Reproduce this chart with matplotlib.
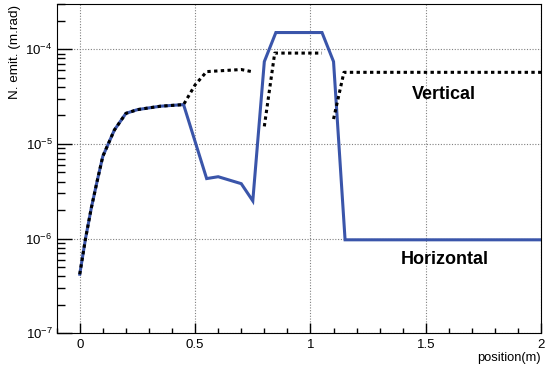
import numpy as np
import matplotlib
matplotlib.use("Agg")
import matplotlib.pyplot as plt
from matplotlib.ticker import MultipleLocator, LogLocator, NullFormatter

plt.rcParams['font.family'] = ['Liberation Sans', 'DejaVu Sans']
plt.rcParams['mathtext.fontset'] = 'custom'
plt.rcParams['mathtext.rm'] = 'Liberation Sans'

# Horizontal emittance (solid blue)
pos_h = [0, 0.025, 0.05, 0.075, 0.1, 0.15, 0.2, 0.25, 0.3, 0.35, 0.4, 0.45,
         0.55, 0.6, 0.7, 0.75, 0.8, 0.85, 1.05, 1.1, 1.15, 2.0]
emit_h = [4.2e-7, 1.0e-6, 2.1e-6, 4.0e-6, 7.4e-6, 1.4e-5, 2.1e-5, 2.3e-5, 2.4e-5, 2.5e-5, 2.55e-5, 2.6e-5,
          4.3e-6, 4.5e-6, 3.8e-6, 2.5e-6, 7.4e-5, 1.5e-4, 1.5e-4, 7.4e-5, 9.7e-7, 9.7e-7]

# Vertical emittance (dotted black), nan marks gaps
pos_v = [0, 0.025, 0.05, 0.075, 0.1, 0.15, 0.2, 0.25, 0.3, 0.35, 0.4, 0.45,
         0.5, 0.55, 0.6, 0.65, 0.7, 0.745, np.nan,
         0.8, 0.845, 1.05, np.nan,
         1.1, 1.145, 2.0]
emit_v = [4.2e-7, 1.0e-6, 2.1e-6, 4.0e-6, 7.4e-6, 1.4e-5, 2.1e-5, 2.3e-5, 2.4e-5, 2.5e-5, 2.55e-5, 2.6e-5,
          4.2e-5, 5.8e-5, 5.9e-5, 6.0e-5, 6.1e-5, 5.8e-5, np.nan,
          1.53e-5, 9.1e-5, 9.1e-5, np.nan,
          1.83e-5, 5.7e-5, 5.7e-5]

fig = plt.figure(figsize=(5.45, 3.67), dpi=100)
ax = fig.add_axes([0.104, 0.092, 0.889, 0.897])

ax.plot(pos_h, emit_h, color='#3a55aa', lw=2.2, solid_joinstyle='miter')
ax.plot(pos_v, emit_v, color='black', lw=2.2, linestyle=(0, (1.1, 1.1)))

ax.set_yscale('log')
ax.set_xlim(-0.1, 2.0)
ax.set_ylim(1e-7, 3e-4)

ax.xaxis.set_minor_locator(MultipleLocator(0.1))
ax.set_xticks([0, 0.5, 1, 1.5, 2])
ax.set_xticklabels(['0', '0.5', '1', '1.5', '2'])
ax.yaxis.set_major_locator(LogLocator(base=10, numticks=10))
ax.yaxis.set_minor_locator(LogLocator(base=10, subs=np.arange(2, 10), numticks=10))
ax.yaxis.set_minor_formatter(NullFormatter())

ax.tick_params(axis='both', which='both', direction='in', labelsize=9.5, width=1)
ax.tick_params(axis='x', which='major', length=7, pad=4)
ax.tick_params(axis='x', which='minor', length=3.5)
ax.tick_params(axis='y', which='major', length=11, pad=3)
ax.tick_params(axis='y', which='minor', length=6)

ax.grid(True, which='major', linestyle=(0, (1, 1.5)), color='#808080', lw=0.8)

ax.set_ylabel('N. emit. (m.rad)', fontsize=9.7, loc='top')
ax.yaxis.set_label_coords(-0.074, 0.997)
ax.set_xlabel('position(m)', fontsize=9.3, loc='right', va='center')
ax.xaxis.set_label_coords(1.0, -0.075)

ax.text(1.58, 3.3e-5, 'Vertical', fontsize=13, fontweight='bold', ha='center', va='center')
ax.text(1.58, 6.0e-7, 'Horizontal', fontsize=13, fontweight='bold', ha='center', va='center')

fig.savefig('out.png', dpi=100)
